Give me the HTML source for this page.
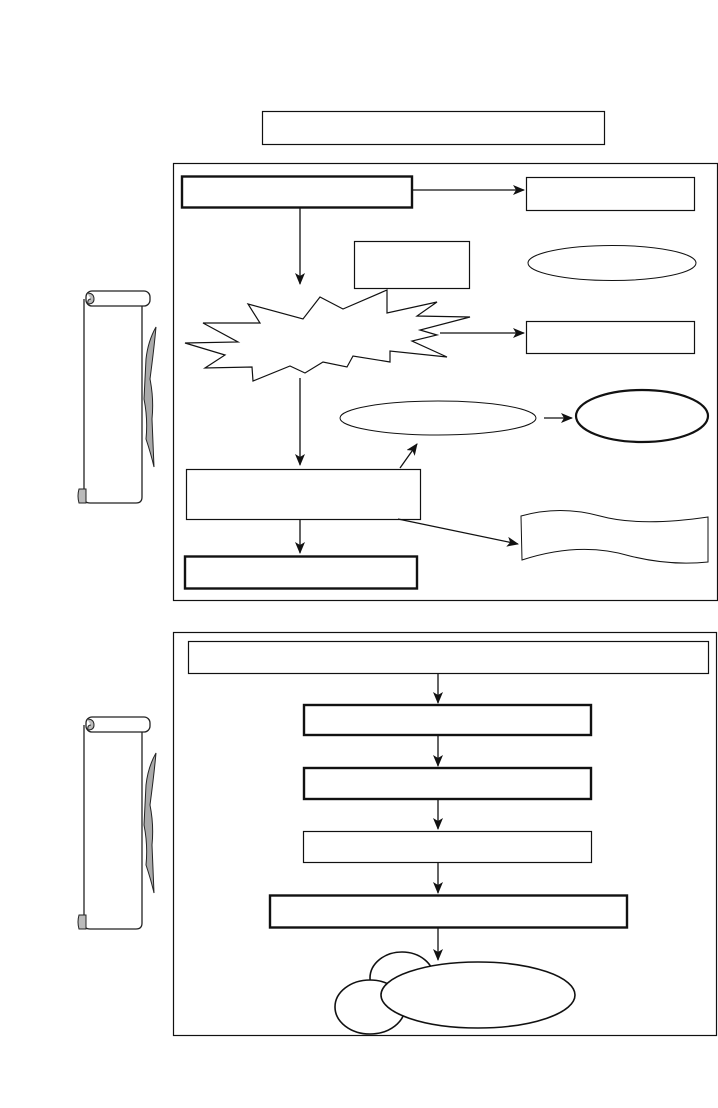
<!DOCTYPE html>
<html><head><meta charset="utf-8"><style>html,body{margin:0;padding:0;background:#fff}svg{display:block}</style></head>
<body>
<svg width="718" height="1108" viewBox="0 0 718 1108" xmlns="http://www.w3.org/2000/svg">
<defs>
<marker id="ah" viewBox="0 0 12 10" refX="11" refY="5" markerWidth="12" markerHeight="10" markerUnits="userSpaceOnUse" orient="auto">
<path d="M0,0 L12,5 L0,10 L3,5 z" fill="#111"/>
</marker>
<g id="scroll">
<path d="M8,10 L8,208 Q8,214 14,214 L60,214 Q66,214 66,208 L66,16" fill="#fff" stroke="#222" stroke-width="1.3"/>
<rect x="10" y="2" width="64" height="15" rx="6" fill="#fff" stroke="#222" stroke-width="1.3"/>
<path d="M11,4 Q18,4 18,10 Q18,15 12,15 Q11,10 15,10" fill="#bbb" stroke="#222" stroke-width="1"/>
<path d="M3,200 L10,200 L10,214 L3,214 Q1,207 3,200 z" fill="#bbb" stroke="#222" stroke-width="1"/>
<path d="M80,38 Q72,52 70,70 L68,110 Q72,130 70,150 Q75,165 78,178 L76,130 Q78,110 74,90 Q78,60 80,38 z" fill="#aaa" stroke="#222" stroke-width="1"/>
</g>
</defs>
<g fill="none" stroke="#111">
<rect x="262.5" y="111.5" width="342" height="33" stroke-width="1.2"/>
<rect x="173.5" y="163.5" width="544" height="437" stroke-width="1.2"/>
<rect x="182" y="176.5" width="230" height="31" stroke-width="2.4"/>
<rect x="526.5" y="177.5" width="168" height="33" stroke-width="1.2"/>
<rect x="354.5" y="241.5" width="115" height="47" stroke-width="1.2"/>
<ellipse cx="612" cy="263" rx="84" ry="17.5" stroke-width="1"/>
<rect x="526.5" y="321.5" width="168" height="32" stroke-width="1.2"/>
<ellipse cx="438" cy="418" rx="98" ry="17" stroke-width="1"/>
<ellipse cx="642" cy="416" rx="66" ry="26" stroke-width="2.2"/>
<rect x="186.5" y="469.5" width="234" height="50" stroke-width="1.2"/>
<rect x="185" y="556.5" width="232" height="32" stroke-width="2.4"/>
<path d="M521,516 Q560,505 600,516 Q640,527 708,517 L708,562 Q670,566 630,556 Q580,541 522,560 Z" stroke-width="1"/>
<path d="M387,290 L387,313 L437,302 L417,316 L470,317 L420,330 L437,335 L412,341 L447,357 L390,351 L390,362 L353,356 L347,367 L323,362 L305,373 L290,366 L253,381 L252,367 L205,368 L225,355 L185,343 L238,342 L203,323 L260,323 L248,304 L303,319 L320,297 L343,309 Z" fill="#fff" stroke-width="1.2"/>
<g stroke-width="1.3" marker-end="url(#ah)">
<line x1="413" y1="190" x2="524" y2="190"/>
<line x1="300" y1="207" x2="300" y2="284"/>
<line x1="300" y1="378" x2="300" y2="465"/>
<line x1="440" y1="333" x2="524" y2="333"/>
<line x1="400" y1="468" x2="417" y2="444"/>
<line x1="544" y1="418" x2="572" y2="418"/>
<line x1="398" y1="519" x2="518" y2="544"/>
<line x1="300" y1="519" x2="300" y2="553"/>
<line x1="438" y1="673" x2="438" y2="703"/>
<line x1="438" y1="735" x2="438" y2="766"/>
<line x1="438" y1="799" x2="438" y2="829"/>
<line x1="438" y1="862" x2="438" y2="893"/>
<line x1="438" y1="928" x2="438" y2="960"/>
</g>
<rect x="173.5" y="632.5" width="543" height="403" stroke-width="1.2"/>
<rect x="188.5" y="641.5" width="520" height="32" stroke-width="1.2"/>
<rect x="304" y="705" width="287" height="30" stroke-width="2.4"/>
<rect x="304" y="768" width="287" height="31" stroke-width="2.4"/>
<rect x="303.5" y="831.5" width="288" height="31" stroke-width="1.2"/>
<rect x="270" y="895.5" width="357" height="32" stroke-width="2.4"/>
<ellipse cx="402" cy="978" rx="32" ry="26" fill="#fff" stroke-width="1.6"/>
<ellipse cx="370" cy="1007" rx="35" ry="27" fill="#fff" stroke-width="1.6"/>
<ellipse cx="478" cy="995" rx="97" ry="33" fill="#fff" stroke-width="1.6"/>
</g>
<use href="#scroll" x="76" y="289"/>
<use href="#scroll" x="76" y="715"/>
</svg>
</body></html>
